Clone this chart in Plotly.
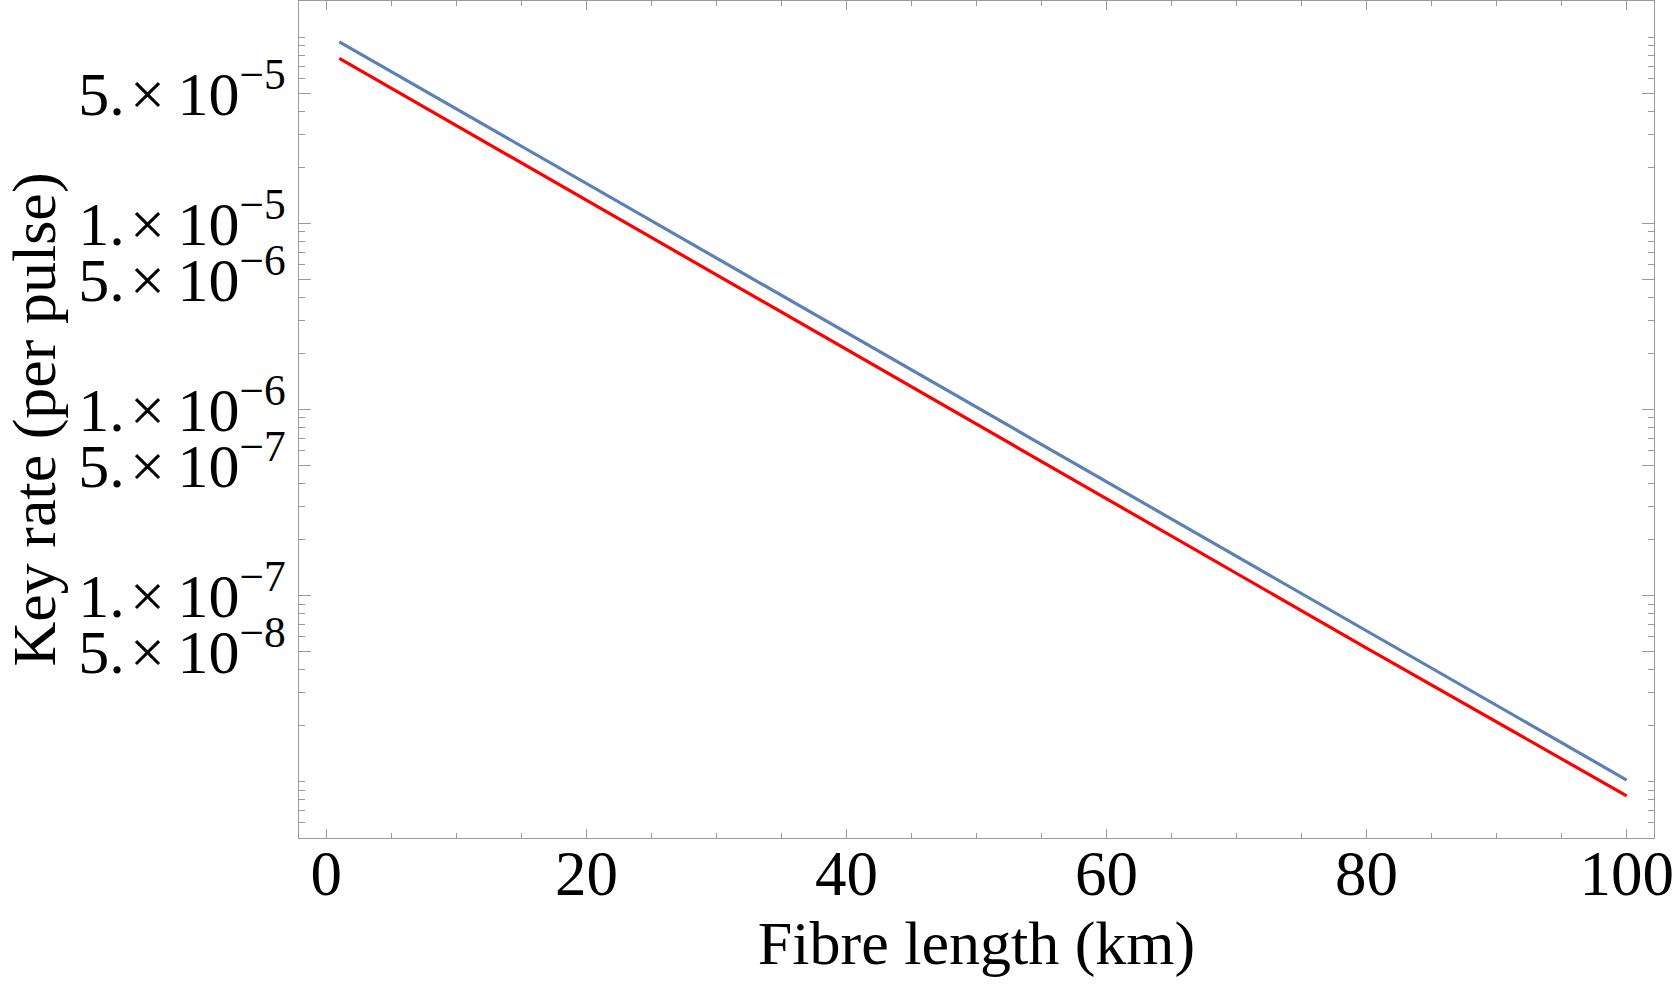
import plotly.graph_objects as go

# Data
fibre_length_km = [1, 20, 40, 60, 80, 100]
key_rate_blue = [9.46e-5, 1.64e-5, 2.58e-6, 4.07e-7, 6.43e-8, 1.02e-8]
key_rate_red = [7.71e-5, 1.33e-5, 2.10e-6, 3.31e-7, 5.22e-8, 8.38e-9]

x_tick_vals = [0, 20, 40, 60, 80, 100]
x_tick_text = ["0", "20", "40", "60", "80", "100"]
x_minor_vals = [v for v in range(-5, 105, 5) if v % 20 != 0]

y_tick_vals = [5e-5, 1e-5, 5e-6, 1e-6, 5e-7, 1e-7, 5e-8]
y_tick_text = ["5.\u200a×\u200910<sup>−5</sup>", "1.\u200a×\u200910<sup>−5</sup>",
               "5.\u200a×\u200910<sup>−6</sup>", "1.\u200a×\u200910<sup>−6</sup>",
               "5.\u200a×\u200910<sup>−7</sup>", "1.\u200a×\u200910<sup>−7</sup>",
               "5.\u200a×\u200910<sup>−8</sup>"]
y_minor_vals = []
for e in range(-9, -3):
    for m in range(1, 10):
        v = m * 10 ** e
        if not any(abs(v - t) / t < 1e-6 for t in y_tick_vals):
            y_minor_vals.append(v)

FONT = "Liberation Serif, Times New Roman, serif"
FRAME = "#9a9a9a"

fig = go.Figure()
fig.add_trace(go.Scatter(x=fibre_length_km, y=key_rate_blue, mode="lines",
                         line=dict(color="#5E81B5", width=3.2), showlegend=False))
fig.add_trace(go.Scatter(x=fibre_length_km, y=key_rate_red, mode="lines",
                         line=dict(color="#FF0000", width=3.2), showlegend=False))

fig.update_layout(
    width=1675, height=984,
    margin=dict(l=299, r=21, t=1, b=146),
    paper_bgcolor="white", plot_bgcolor="white",
    font=dict(family=FONT, color="black", size=62),
    xaxis=dict(
        range=[-2.1, 102.1], showgrid=False, zeroline=False,
        showline=True, linecolor=FRAME, linewidth=1, mirror="ticks",
        ticks="inside", ticklen=9, tickcolor=FRAME, tickwidth=1,
        tickmode="array", tickvals=x_tick_vals, ticktext=x_tick_text,
        tickfont=dict(size=63, family=FONT), ticklabelstandoff=-20,
        minor=dict(ticks="inside", ticklen=5, tickcolor=FRAME, tickwidth=1,
                   tickmode="array", tickvals=x_minor_vals, showgrid=False),
        title=dict(text="Fibre length (km)", font=dict(size=62, family=FONT), standoff=0),
    ),
    yaxis=dict(
        type="log", range=[-8.303, -3.805], showgrid=False, zeroline=False,
        showline=True, linecolor=FRAME, linewidth=1, mirror="ticks",
        ticks="inside", ticklen=12, tickcolor=FRAME, tickwidth=1,
        tickmode="array", tickvals=y_tick_vals, ticktext=y_tick_text,
        tickfont=dict(size=62, family=FONT),
        minor=dict(ticks="inside", ticklen=6, tickcolor=FRAME, tickwidth=1,
                   tickmode="array", tickvals=y_minor_vals, showgrid=False),
        title=dict(text="Key rate (per pulse)", font=dict(size=62, family=FONT), standoff=2),
    ),
)

fig.write_html("out.html")
